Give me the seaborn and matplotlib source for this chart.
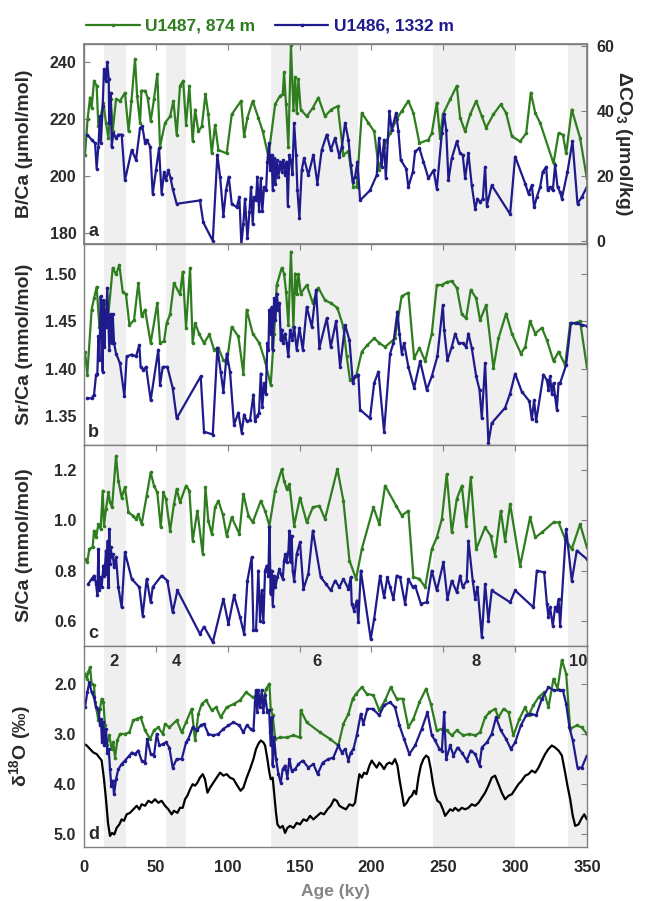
import numpy as np
import pandas as pd
import matplotlib
matplotlib.use("Agg")
import matplotlib.pyplot as plt
import seaborn as sns
from matplotlib.lines import Line2D
from matplotlib.ticker import FormatStrFormatter

# ---------------------------------------------------------------
# Data (age in ky)
# ---------------------------------------------------------------
# glacial stages (shaded) and their labels
mis_bands = [(14, 29), (57, 71), (130, 191), (243, 300), (337, 374)]
mis_labels = ["2", "4", "6", "8", "10"]
mis_label_age = [21, 64, 162, 273, 344]

# a) B/Ca
bca_487_age = [0.7, 2.5, 4.2, 5.3, 7.0, 8.8, 10.0, 11.6, 13.5, 15.3,
               17.0, 18.6, 20.0, 22.3, 25.0, 28.5, 31.0, 33.0, 35.5, 37.0,
               39.0, 40.0, 42.5, 44.3, 46.4, 48.7, 51.0, 52.9, 56.4, 59.9,
               62.2, 64.5, 66.8, 69.0, 71.0, 73.3, 75.6, 77.3, 79.6, 82.0,
               84.5, 86.5, 88.9, 91.2, 93.5, 99.3, 102.8, 109.3, 111.4, 113.7,
               117.4, 121.3, 124.4, 128.3, 133.0, 136.4, 138.3, 139.2, 140.6, 142.2,
               144.0, 145.7, 146.9, 148.0, 149.2, 150.8, 155.0, 159.2, 163.1, 167.7,
               172.0, 176.6, 180.5, 184.0, 187.5, 189.8, 193.3, 197.9, 201.9, 205.3,
               208.8, 213.0, 217.6, 221.0, 225.7, 229.2, 233.4, 239.7, 242.0, 245.5,
               247.8, 249.7, 254.8, 259.4, 261.7, 265.2, 268.7, 272.9, 276.8, 279.8,
               284.9, 290.0, 293.7, 297.7, 303.5, 307.7, 310.9, 314.0, 317.4, 326.7,
               330.2, 333.2, 335.5, 339.4, 345.2, 349.9]
bca_487 = [207.5, 220.0, 227.6, 224.0, 233.5, 231.7, 217.5, 221.0, 225.8, 218.7,
           213.4, 227.0, 216.0, 227.0, 226.4, 229.3, 215.7, 226.4, 241.2, 228.0,
           218.7, 230.0, 230.0, 227.6, 219.3, 227.0, 235.9, 210.4, 218.7, 221.0,
           226.4, 214.6, 231.7, 233.5, 218.0, 231.7, 212.2, 223.4, 215.7, 217.5,
           228.8, 221.7, 208.0, 218.0, 209.2, 208.0, 221.7, 226.4, 214.0, 220.5,
           226.4, 220.5, 215.7, 206.9, 225.2, 228.2, 228.8, 236.4, 225.2, 210.4,
           245.9, 223.4, 234.7, 222.2, 234.0, 223.4, 221.0, 224.0, 227.6, 221.0,
           223.4, 224.6, 207.5, 208.7, 196.2, 196.2, 222.2, 218.7, 215.7, 202.1,
           210.4, 215.1, 220.0, 222.8, 226.4, 222.2, 211.6, 212.8, 215.1, 225.8,
           213.4, 221.7, 227.0, 231.7, 220.5, 215.7, 221.7, 226.4, 221.0, 217.0,
           221.7, 225.2, 222.2, 214.0, 212.2, 215.1, 229.3, 222.2, 218.7, 204.5,
           215.1, 214.6, 208.0, 223.4, 213.4, 199.2]

bca_486_age = [2.3, 5.3, 7.7, 8.8, 10.0, 11.1, 11.8, 13.0, 13.9, 15.3,
               16.2, 17.2, 17.6, 18.6, 19.3, 20.4, 22.3, 23.9, 26.2, 28.5,
               33.2, 36.2, 39.0, 40.6, 42.5, 43.6, 46.0, 47.8, 50.1, 52.2,
               54.0, 55.7, 57.0, 58.7, 60.3, 61.7, 64.5, 80.7, 83.0, 89.6,
               92.8, 94.7, 97.0, 98.8, 100.7, 102.8, 106.3, 108.1, 109.5, 110.9,
               112.0, 113.7, 115.1, 116.2, 117.4, 118.3, 119.7, 120.6, 121.8, 123.0,
               124.1, 125.3, 126.7, 127.6, 128.8, 129.5, 130.6, 131.3, 132.3, 133.2,
               134.1, 135.3, 136.4, 137.6, 138.7, 139.9, 141.0, 141.8, 142.9, 144.1,
               145.0, 146.2, 147.6, 148.5, 149.9, 151.5, 153.1, 156.1, 159.6, 162.4,
               165.4, 168.9, 171.7, 174.7, 177.7, 179.4, 181.7, 184.0, 185.7, 187.1,
               188.6, 190.3, 192.1, 199.0, 203.7, 205.3, 207.2, 208.8, 210.0, 212.5,
               214.1, 217.2, 218.8, 220.4, 224.1, 225.7, 228.8, 230.4, 233.4, 236.2,
               239.7, 243.2, 245.5, 249.0, 250.6, 252.0, 253.6, 255.9, 259.4, 261.7,
               263.5, 265.2, 267.5, 269.8, 272.2, 273.8, 275.6, 277.5, 279.1, 280.3,
               283.7, 296.5, 300.0, 307.0, 309.3, 311.6, 313.2, 315.1, 317.4, 319.2,
               321.6, 322.7, 324.3, 326.2, 327.8, 329.5, 331.3, 332.5, 336.4, 339.9,
               343.4, 346.4, 349.9]
bca_486 = [214.6, 212.8, 211.6, 202.7, 210.4, 221.0, 211.6, 224.6, 237.6, 233.5,
           240.0, 234.0, 218.7, 229.3, 210.4, 215.1, 213.4, 214.6, 214.6, 198.6,
           209.2, 205.7, 216.9, 217.5, 211.6, 212.8, 210.4, 193.8, 202.1, 209.8,
           193.8, 201.5, 198.6, 202.1, 199.2, 195.6, 190.3, 191.5, 183.8, 177.3,
           207.5, 199.8, 186.1, 195.0, 199.8, 190.3, 189.1, 192.7, 176.1, 183.2,
           192.1, 178.2, 187.3, 196.2, 183.2, 192.7, 191.5, 199.8, 187.9, 199.2,
           187.9, 196.2, 195.0, 205.1, 211.6, 202.1, 207.5, 195.0, 206.3, 197.4,
           205.7, 199.8, 205.1, 201.5, 205.7, 200.4, 205.1, 189.7, 207.5, 205.1,
           200.9, 218.7, 207.5, 195.0, 185.5, 202.1, 206.3, 200.4, 207.5, 197.4,
           209.2, 214.6, 209.2, 213.4, 206.9, 210.4, 218.7, 212.8, 203.9, 197.9,
           199.8, 205.1, 191.5, 195.0, 200.4, 213.4, 203.3, 212.8, 199.2, 222.8,
           216.3, 222.2, 215.7, 205.7, 202.7, 196.2, 201.5, 208.7, 209.8, 205.1,
           199.2, 202.1, 195.6, 215.1, 221.7, 216.3, 198.6, 206.3, 212.2, 208.0,
           207.5, 199.2, 208.0, 196.8, 188.5, 192.1, 190.9, 192.1, 203.3, 189.7,
           196.8, 186.7, 206.9, 197.4, 193.8, 196.8, 189.1, 192.7, 196.2, 201.5,
           203.3, 195.0, 196.2, 195.0, 203.9, 196.2, 194.4, 192.1, 201.5, 212.2,
           190.3, 192.7, 196.2]

# b) Sr/Ca
srca_487_age = [0.7, 2.3, 5.3, 7.0, 8.8, 10.7, 12.3, 14.6, 17.0, 20.0,
                22.3, 24.6, 26.9, 29.2, 31.6, 34.8, 37.8, 40.1, 42.5, 46.4,
                51.0, 52.9, 55.7, 57.5, 59.9, 62.6, 66.8, 68.7, 71.0, 73.8,
                75.6, 77.3, 80.3, 83.5, 87.2, 90.5, 93.5, 97.0, 99.3, 102.8,
                107.4, 110.9, 113.2, 117.4, 122.0, 126.0, 129.9, 132.3, 134.1, 137.6,
                139.2, 140.6, 142.2, 144.0, 145.7, 146.9, 148.0, 149.2, 150.8, 155.0,
                159.2, 163.1, 167.7, 171.7, 176.3, 180.5, 182.8, 185.1, 189.3, 193.3,
                197.2, 201.9, 205.5, 209.5, 216.4, 221.0, 225.7, 229.7, 233.4, 237.4,
                242.0, 245.5, 249.0, 252.4, 255.9, 259.4, 262.9, 265.9, 269.1, 272.9,
                275.6, 279.8, 284.9, 288.4, 293.7, 297.7, 304.0, 307.0, 310.4, 314.0,
                318.6, 322.1, 326.7, 330.2, 334.8, 338.3, 341.8, 345.2, 349.9]
srca_487 = [1.418, 1.394, 1.462, 1.474, 1.486, 1.444, 1.455, 1.471, 1.458, 1.506,
            1.499, 1.509, 1.481, 1.478, 1.446, 1.451, 1.490, 1.455, 1.462, 1.427,
            1.469, 1.427, 1.429, 1.448, 1.457, 1.490, 1.478, 1.502, 1.443, 1.506,
            1.427, 1.448, 1.436, 1.427, 1.436, 1.420, 1.422, 1.409, 1.406, 1.444,
            1.434, 1.395, 1.462, 1.437, 1.427, 1.408, 1.383, 1.437, 1.488, 1.506,
            1.500, 1.481, 1.446, 1.523, 1.444, 1.500, 1.478, 1.499, 1.479, 1.488,
            1.469, 1.485, 1.472, 1.469, 1.464, 1.444, 1.413, 1.388, 1.392, 1.418,
            1.425, 1.432, 1.427, 1.423, 1.432, 1.476, 1.480, 1.411, 1.422, 1.408,
            1.437, 1.488, 1.488, 1.491, 1.492, 1.485, 1.457, 1.453, 1.483, 1.474,
            1.451, 1.467, 1.401, 1.432, 1.458, 1.437, 1.416, 1.423, 1.450, 1.437,
            1.443, 1.430, 1.408, 1.418, 1.404, 1.448, 1.448, 1.450, 1.402]

srca_486_age = [2.3, 5.3, 7.0, 8.4, 9.3, 10.0, 10.7, 11.6, 12.3, 13.0,
                13.5, 14.2, 14.8, 15.3, 16.2, 17.0, 17.6, 18.6, 19.3, 20.0,
                20.9, 22.3, 25.0, 28.1, 29.7, 33.2, 36.2, 38.5, 39.4, 41.3,
                43.2, 46.4, 51.7, 52.9, 54.8, 58.0, 61.7, 64.5, 81.2, 83.5,
                89.6, 92.8, 95.1, 97.0, 99.3, 101.6, 104.4, 107.4, 109.7, 111.4,
                113.2, 115.5, 117.9, 119.0, 120.2, 121.8, 123.0, 124.1, 125.3, 126.5,
                127.6, 128.3, 129.0, 129.9, 130.6, 131.3, 132.3, 133.2, 134.1, 135.3,
                136.0, 136.9, 137.6, 138.7, 139.9, 141.0, 142.2, 143.4, 145.0, 146.2,
                148.0, 149.9, 152.2, 155.0, 158.5, 161.5, 163.8, 168.9, 171.7, 175.4,
                178.2, 181.7, 184.7, 187.1, 188.6, 190.9, 192.1, 199.0, 201.9, 204.9,
                208.8, 213.0, 215.3, 218.1, 219.5, 221.1, 222.7, 225.7, 229.7, 233.9,
                238.5, 242.0, 245.9, 249.7, 250.6, 252.9, 255.9, 258.3, 260.6, 263.5,
                265.9, 267.5, 269.8, 272.9, 275.2, 276.8, 279.1, 281.4, 283.7, 293.0,
                296.5, 300.0, 304.6, 309.9, 311.6, 313.2, 314.6, 319.7, 322.1, 323.2,
                324.3, 325.5, 326.7, 327.8, 329.0, 330.2, 331.3, 335.5, 338.8, 342.9,
                346.4, 349.9]
srca_486 = [1.369, 1.369, 1.373, 1.394, 1.395, 1.434, 1.409, 1.476, 1.452, 1.397,
            1.472, 1.423, 1.462, 1.444, 1.485, 1.448, 1.420, 1.457, 1.427, 1.457,
            1.427, 1.416, 1.406, 1.371, 1.413, 1.415, 1.413, 1.425, 1.402, 1.399,
            1.402, 1.367, 1.420, 1.383, 1.402, 1.402, 1.380, 1.348, 1.392, 1.334,
            1.331, 1.422, 1.397, 1.376, 1.416, 1.397, 1.341, 1.354, 1.333, 1.352,
            1.345, 1.346, 1.373, 1.345, 1.350, 1.354, 1.395, 1.360, 1.385, 1.374,
            1.427, 1.420, 1.462, 1.437, 1.465, 1.420, 1.474, 1.451, 1.479, 1.462,
            1.469, 1.430, 1.441, 1.427, 1.437, 1.427, 1.413, 1.441, 1.430, 1.444,
            1.420, 1.443, 1.420, 1.465, 1.444, 1.483, 1.422, 1.453, 1.423, 1.450,
            1.402, 1.446, 1.430, 1.385, 1.392, 1.394, 1.357, 1.348, 1.385, 1.397,
            1.334, 1.416, 1.427, 1.460, 1.437, 1.416, 1.427, 1.402, 1.380, 1.408,
            1.378, 1.392, 1.413, 1.467, 1.441, 1.409, 1.423, 1.437, 1.427, 1.427,
            1.423, 1.437, 1.422, 1.392, 1.378, 1.348, 1.406, 1.322, 1.343, 1.359,
            1.374, 1.395, 1.376, 1.366, 1.347, 1.367, 1.345, 1.394, 1.388, 1.378,
            1.392, 1.374, 1.385, 1.371, 1.357, 1.385, 1.385, 1.404, 1.448, 1.448,
            1.446, 1.445]

# c) S/Ca
sca_487_age = [0.7, 2.3, 3.7, 6.0, 7.0, 8.4, 10.0, 11.6, 13.0, 13.9,
               15.3, 17.0, 18.1, 19.5, 22.3, 23.9, 26.2, 28.5, 30.9, 33.9,
               36.2, 37.8, 40.1, 43.6, 46.4, 48.7, 51.0, 53.4, 55.2, 57.0,
               59.9, 62.6, 64.5, 66.8, 71.0, 73.3, 75.6, 78.9, 82.6, 84.5,
               86.5, 88.9, 91.2, 93.5, 96.5, 99.3, 102.8, 108.1, 110.9, 114.4,
               117.4, 123.0, 126.0, 129.0, 133.0, 137.6, 139.2, 141.0, 142.9, 146.2,
               150.3, 155.0, 159.2, 163.8, 167.7, 176.3, 180.5, 184.7, 189.3, 193.3,
               201.4, 205.5, 209.5, 217.2, 221.1, 225.7, 229.2, 233.4, 237.4, 242.0,
               245.5, 249.0, 252.4, 255.9, 259.4, 262.9, 265.9, 269.1, 272.9, 279.1,
               283.0, 286.0, 290.0, 293.0, 296.5, 303.5, 310.4, 314.0, 318.6, 326.7,
               330.2, 334.8, 339.4, 345.2, 349.9]
sca_487 = [0.846, 0.833, 0.886, 0.893, 0.959, 0.932, 0.984, 0.966, 1.118, 0.979,
           1.045, 1.111, 1.072, 1.052, 1.257, 1.158, 1.091, 1.131, 1.032, 1.019,
           1.005, 1.025, 0.985, 1.098, 1.191, 1.138, 1.111, 0.972, 1.111, 1.085,
           0.959, 1.065, 1.125, 1.072, 1.138, 1.118, 0.919, 1.038, 0.866, 1.131,
           0.999, 0.946, 1.052, 1.078, 1.025, 0.939, 1.012, 0.946, 1.105, 1.019,
           0.992, 1.078, 1.038, 0.979, 1.118, 1.204, 1.158, 1.125, 1.144, 0.979,
           1.091, 0.992, 1.052, 1.058, 1.005, 1.204, 1.078, 0.840, 0.767, 0.886,
           1.052, 0.985, 1.138, 1.058, 1.019, 1.038, 0.774, 0.767, 0.734, 0.886,
           0.932, 1.005, 1.184, 0.952, 1.085, 1.138, 0.979, 1.171, 0.886, 0.972,
           0.939, 0.860, 1.038, 0.919, 1.065, 0.820, 1.012, 0.932, 0.952, 0.992,
           0.992, 0.926, 0.886, 0.985, 0.893]

sca_486_age = [3.0, 5.3, 7.0, 8.4, 9.3, 10.0, 10.7, 11.6, 12.3, 13.5,
               14.2, 15.3, 15.8, 16.5, 17.0, 17.6, 18.1, 18.6, 19.3, 20.0,
               20.9, 22.3, 23.9, 26.2, 28.5, 33.2, 38.5, 40.8, 43.6, 46.4,
               47.8, 54.0, 58.0, 61.7, 65.0, 80.7, 83.5, 89.6, 97.0, 100.5,
               104.4, 108.6, 111.4, 113.7, 116.7, 117.9, 119.7, 121.3, 122.5, 123.7,
               124.8, 126.0, 127.1, 128.3, 129.0, 129.9, 130.6, 131.3, 132.3, 133.2,
               134.5, 136.0, 136.9, 138.3, 139.2, 140.1, 141.0, 142.2, 142.9, 143.8,
               144.5, 145.2, 146.2, 148.0, 150.3, 152.7, 156.1, 159.2, 164.7, 168.4,
               171.7, 174.7, 177.7, 180.5, 184.0, 185.6, 186.3, 187.9, 189.8, 190.9,
               192.6, 199.5, 201.9, 206.0, 208.8, 211.1, 213.0, 215.3, 217.6, 219.9,
               223.4, 225.7, 228.8, 230.4, 234.4, 238.5, 242.0, 245.5, 250.1, 252.9,
               255.9, 259.4, 261.7, 263.5, 266.3, 267.5, 270.5, 272.2, 273.8, 276.8,
               279.1, 281.4, 283.7, 296.5, 300.0, 312.7, 315.1, 320.2, 322.1, 323.2,
               324.3, 326.2, 327.8, 329.0, 330.2, 331.3, 335.5, 339.4, 342.9, 349.9]
sca_486 = [0.747, 0.767, 0.780, 0.747, 0.701, 0.886, 0.721, 0.774, 0.734, 0.820,
           0.780, 0.880, 0.787, 0.919, 0.734, 0.966, 0.826, 0.893, 0.853, 0.866,
           0.813, 0.853, 0.734, 0.654, 0.873, 0.767, 0.734, 0.621, 0.767, 0.674,
           0.734, 0.780, 0.760, 0.634, 0.721, 0.548, 0.577, 0.515, 0.687, 0.587,
           0.701, 0.614, 0.548, 0.760, 0.853, 0.562, 0.562, 0.800, 0.601, 0.721,
           0.595, 0.800, 0.820, 0.780, 0.972, 0.707, 0.800, 0.661, 0.780, 0.734,
           0.774, 0.807, 0.787, 0.767, 0.840, 0.866, 0.833, 0.873, 0.959, 0.833,
           0.939, 0.800, 0.760, 0.866, 0.913, 0.727, 0.787, 0.959, 0.774, 0.747,
           0.721, 0.760, 0.734, 0.767, 0.727, 0.774, 0.668, 0.641, 0.681, 0.595,
           0.800, 0.528, 0.608, 0.780, 0.694, 0.774, 0.734, 0.687, 0.780, 0.774,
           0.668, 0.767, 0.734, 0.740, 0.668, 0.674, 0.800, 0.721, 0.833, 0.687,
           0.760, 0.714, 0.780, 0.734, 0.760, 0.919, 0.760, 0.687, 0.734, 0.535,
           0.747, 0.601, 0.721, 0.674, 0.721, 0.654, 0.800, 0.793, 0.668, 0.615,
           0.654, 0.581, 0.654, 0.641, 0.687, 0.581, 0.966, 0.760, 0.880, 0.846]

# d) d18O
d18o_487_age = [0.7, 1.9, 3.0, 4.2, 5.3, 7.0, 7.7, 8.8, 10.0, 11.1,
                12.3, 13.5, 14.6, 15.8, 17.6, 19.3, 20.4, 21.6, 23.2, 25.0,
                28.5, 31.6, 34.3, 36.7, 39.4, 42.5, 46.0, 48.7, 51.7, 54.8,
                56.4, 59.4, 64.5, 68.0, 71.0, 74.9, 77.3, 79.6, 82.0, 85.0,
                88.9, 91.9, 95.1, 99.3, 104.4, 108.6, 112.8, 117.4, 121.3, 124.8,
                126.7, 129.0, 129.9, 131.3, 133.0, 136.4, 141.0, 145.7, 150.3, 150.8,
                155.0, 164.3, 171.2, 177.0, 180.5, 184.0, 187.0, 189.3, 193.3, 196.7,
                201.4, 205.5, 209.5, 213.4, 217.6, 221.7, 225.7, 229.2, 233.4, 238.0,
                241.3, 245.5, 249.0, 252.4, 255.9, 259.4, 264.0, 268.2, 272.2, 275.6,
                279.1, 282.1, 286.0, 288.4, 291.9, 295.4, 298.8, 303.0, 306.9, 309.3,
                312.7, 316.3, 320.2, 323.2, 326.7, 329.5, 332.5, 335.5, 338.3, 342.9,
                346.4, 349.9]
d18o_487 = [1.80, 1.90, 1.77, 1.67, 2.00, 2.03, 2.37, 2.53, 2.73, 2.50,
            2.30, 2.37, 2.83, 3.23, 3.03, 3.30, 3.17, 3.47, 3.13, 3.00,
            3.00, 2.97, 2.73, 2.70, 2.67, 2.93, 3.10, 2.93, 2.87, 3.00,
            2.80, 2.87, 2.73, 2.97, 2.77, 2.50, 3.13, 2.60, 2.40, 2.33,
            2.53, 2.47, 2.67, 2.47, 2.40, 2.33, 2.17, 2.27, 2.23, 2.33,
            2.10, 2.00, 2.50, 2.63, 3.10, 3.07, 3.07, 3.03, 3.07, 2.53,
            2.77, 2.97, 3.10, 3.23, 2.80, 2.60, 2.30, 2.20, 2.07, 2.20,
            2.23, 2.53, 2.33, 2.07, 2.30, 2.30, 2.87, 2.70, 2.37, 2.10,
            2.40, 2.93, 2.90, 2.93, 3.03, 2.93, 3.03, 3.00, 3.03, 2.97,
            2.67, 2.57, 2.50, 2.67, 2.50, 2.57, 3.03, 2.70, 2.47, 2.63,
            2.43, 2.27, 2.17, 2.47, 1.90, 2.10, 1.53, 1.80, 2.90, 2.83,
            2.87, 3.00]

d18o_486_age = [0.7, 2.3, 3.7, 5.3, 7.0, 8.4, 10.0, 11.1, 11.8, 12.5,
                13.5, 14.2, 15.3, 16.2, 17.2, 18.1, 19.0, 20.0, 20.9, 22.3,
                23.9, 26.2, 28.5, 31.6, 33.2, 35.5, 37.8, 40.1, 42.5, 44.0,
                46.4, 48.7, 50.6, 52.4, 54.8, 57.0, 59.4, 61.7, 64.5, 68.0,
                71.0, 72.6, 75.6, 78.4, 81.2, 83.5, 86.5, 90.0, 93.5, 97.0,
                100.5, 104.0, 108.1, 110.9, 113.2, 116.0, 117.9, 119.0, 119.7, 120.6,
                121.3, 122.5, 123.7, 124.8, 126.0, 127.6, 128.8, 129.5, 129.9, 130.6,
                131.3, 132.3, 133.6, 135.3, 136.9, 138.3, 139.9, 141.5, 142.9, 144.5,
                146.9, 149.2, 152.2, 156.1, 159.6, 162.6, 166.1, 170.1, 173.5, 177.0,
                179.4, 181.7, 184.0, 185.6, 187.5, 189.8, 192.6, 194.4, 197.2, 200.9,
                205.5, 208.8, 213.0, 216.4, 219.5, 222.7, 226.4, 230.4, 235.0, 239.0,
                242.0, 244.3, 247.3, 249.0, 250.6, 252.0, 254.8, 257.1, 259.9, 262.9,
                266.3, 269.1, 272.2, 275.2, 276.8, 280.3, 283.7, 286.7, 290.0, 293.7,
                297.0, 300.0, 304.0, 307.7, 310.9, 314.6, 318.6, 323.2, 326.7, 330.9,
                333.2, 335.5, 337.8, 340.1, 343.4, 346.4, 349.9]
d18o_486 = [2.47, 2.17, 1.97, 2.17, 2.27, 2.47, 2.50, 2.83, 2.70, 3.17,
            2.77, 3.23, 2.90, 3.37, 3.30, 3.70, 4.03, 3.93, 4.20, 3.90,
            3.70, 3.60, 3.53, 3.43, 3.37, 3.40, 3.33, 3.53, 3.57, 3.10,
            3.40, 3.43, 3.00, 3.23, 3.20, 3.17, 3.27, 3.67, 3.50, 3.50,
            3.17, 3.10, 2.87, 2.93, 2.83, 2.80, 3.00, 3.03, 3.00, 2.90,
            2.83, 2.77, 2.83, 2.97, 2.83, 2.90, 2.93, 2.37, 2.13, 2.57,
            2.13, 2.47, 2.13, 2.57, 2.23, 2.57, 2.53, 2.97, 3.23, 2.67,
            3.63, 3.07, 3.50, 3.80, 3.97, 3.70, 3.63, 3.87, 3.50, 3.73,
            3.70, 3.60, 3.53, 3.67, 3.60, 3.80, 3.57, 3.50, 3.47, 3.23,
            3.37, 3.30, 3.53, 3.37, 3.30, 3.03, 2.60, 2.80, 2.50, 2.50,
            2.63, 2.43, 2.37, 2.47, 2.83, 3.10, 3.40, 3.23, 2.90, 2.57,
            3.03, 3.13, 3.30, 3.33, 2.57, 3.50, 3.23, 3.43, 3.27, 3.37,
            3.53, 3.33, 3.40, 3.63, 3.27, 3.17, 3.00, 2.67, 2.93, 3.10,
            3.30, 3.17, 2.83, 2.63, 2.60, 2.63, 2.30, 2.07, 2.13, 2.13,
            2.13, 2.40, 2.87, 3.13, 3.67, 3.67, 3.43]

# benthic stack (black line)
stack_age = [0.0, 1.9, 4.2, 6.5, 8.8, 10.7, 12.3, 13.9, 15.3, 16.7,
             18.1, 19.5, 21.1, 22.7, 24.6, 26.2, 27.8, 29.7, 32.0, 34.3,
             36.7, 38.5, 40.1, 42.5, 44.8, 47.1, 49.4, 51.7, 54.0, 56.4,
             58.7, 61.0, 62.6, 65.0, 66.8, 68.7, 70.3, 71.9, 73.8, 75.6,
             77.3, 78.9, 80.7, 82.6, 84.2, 85.9, 87.7, 90.0, 92.3, 94.7,
             97.0, 99.3, 101.6, 104.0, 106.7, 109.0, 110.9, 113.2, 115.5, 117.9,
             119.7, 121.3, 123.0, 124.8, 126.0, 127.6, 129.0, 129.9, 131.3, 132.3,
             133.6, 134.6, 136.4, 138.3, 139.9, 141.5, 143.4, 145.7, 148.0, 150.3,
             152.7, 155.0, 157.3, 159.6, 162.4, 164.7, 167.0, 169.4, 171.7, 174.0,
             175.9, 177.7, 180.0, 182.3, 184.7, 187.0, 188.6, 190.3, 191.6, 193.3,
             194.9, 196.7, 198.6, 200.2, 201.9, 203.7, 205.5, 207.2, 208.8, 210.7,
             212.5, 214.4, 216.4, 218.1, 219.5, 221.1, 222.7, 224.6, 226.4, 228.1,
             229.7, 231.1, 232.7, 234.4, 236.2, 238.1, 239.7, 241.3, 242.7, 244.3,
             245.9, 247.8, 249.7, 251.3, 252.9, 254.8, 256.6, 258.2, 260.6, 262.9,
             265.2, 267.5, 269.8, 272.2, 274.5, 276.8, 279.1, 281.4, 283.7, 286.0,
             288.4, 290.7, 293.0, 295.4, 297.7, 300.0, 302.3, 304.6, 307.0, 309.3,
             311.6, 314.0, 316.3, 318.6, 320.9, 323.2, 325.5, 327.8, 330.2, 332.5,
             334.8, 336.4, 338.3, 340.1, 341.8, 344.1, 346.4, 348.1, 349.9]
stack_d18o = [3.20, 3.23, 3.30, 3.37, 3.40, 3.47, 3.53, 3.90, 4.30, 4.77,
              5.03, 4.97, 5.00, 4.87, 4.80, 4.70, 4.73, 4.60, 4.57, 4.50,
              4.43, 4.50, 4.40, 4.43, 4.33, 4.37, 4.30, 4.37, 4.33, 4.43,
              4.50, 4.60, 4.53, 4.57, 4.47, 4.47, 4.30, 4.23, 4.10, 4.00,
              4.03, 3.97, 3.87, 3.80, 3.90, 4.17, 4.07, 3.97, 3.87, 3.77,
              3.83, 3.80, 3.87, 3.90, 4.03, 4.13, 4.07, 3.87, 3.70, 3.50,
              3.30, 3.20, 3.13, 3.17, 3.23, 3.50, 3.77, 3.90, 3.87, 4.17,
              4.57, 4.80, 4.87, 4.83, 4.97, 4.87, 4.83, 4.87, 4.77, 4.80,
              4.70, 4.73, 4.63, 4.70, 4.63, 4.57, 4.60, 4.50, 4.43, 4.30,
              4.33, 4.43, 4.47, 4.50, 4.40, 4.43, 4.37, 4.03, 3.80, 3.87,
              3.77, 3.80, 3.63, 3.53, 3.60, 3.67, 3.57, 3.63, 3.70, 3.60,
              3.57, 3.60, 3.50, 3.63, 3.90, 4.17, 4.43, 4.37, 4.27, 4.23,
              4.13, 4.20, 3.87, 3.63, 3.50, 3.43, 3.47, 3.70, 3.97, 4.20,
              4.33, 4.37, 4.50, 4.63, 4.57, 4.50, 4.53, 4.47, 4.53, 4.47,
              4.50, 4.47, 4.40, 4.43, 4.37, 4.27, 4.17, 4.03, 3.87, 3.83,
              4.00, 4.17, 4.30, 4.23, 4.20, 4.10, 4.00, 3.93, 3.83, 3.80,
              3.73, 3.77, 3.67, 3.53, 3.40, 3.30, 3.23, 3.27, 3.33, 3.43,
              3.77, 4.03, 4.30, 4.63, 4.83, 4.80, 4.67, 4.60, 4.70]

x_ticks = [0, 50, 100, 150, 200, 250, 300, 350]

# ---------------------------------------------------------------
# Style
# ---------------------------------------------------------------
sns.set_theme(style="white")
plt.rcParams["font.family"] = ["Liberation Sans", "DejaVu Sans"]
plt.rcParams["font.weight"] = "bold"
plt.rcParams["axes.labelweight"] = "bold"
plt.rcParams["mathtext.fontset"] = "custom"
plt.rcParams["mathtext.rm"] = "Liberation Sans:bold"
plt.rcParams["mathtext.default"] = "rm"

GREEN = "#2e7d1f"
NAVY = "#1f1b8c"
SHADE = "#efefef"
FRAME = "#808080"
TXT = "#2a2a2a"
LABEL_SIZE = 14

fig = plt.figure(figsize=(6.49, 9.01), dpi=100)
left, width = 84 / 649, 503 / 649
tops = [44, 244, 445, 646]
bottoms = [244, 445, 646, 847]
axes = []
for t, b in zip(tops, bottoms):
    axes.append(fig.add_axes([left, 1 - b / 901, width, (b - t) / 901]))
ax_a, ax_b, ax_c, ax_d = axes

line_kw = dict(marker="o", markersize=2.6, markeredgewidth=0, linewidth=1.6,
               estimator=None, sort=False, legend=False)

for ax in axes:
    for lo, hi in mis_bands:
        ax.axvspan(lo, hi, color=SHADE, lw=0, zorder=0)
    ax.set_xlim(0, 350)
    ax.set_xticks(x_ticks)
    for s in ax.spines.values():
        s.set_color(FRAME)
        s.set_linewidth(1.0)
    ax.tick_params(direction="in", top=True, right=True, length=4, width=0.8,
                   color=FRAME, labelcolor=TXT)
    ax.tick_params(axis="y", labelsize=11.5, pad=5.5)
    ax.tick_params(axis="x", labelsize=12, pad=9)
    ax.set_xlabel("")

# a
sns.lineplot(x=bca_487_age, y=bca_487, color=GREEN, ax=ax_a, **line_kw)
sns.lineplot(x=bca_486_age, y=bca_486, color=NAVY, ax=ax_a, **line_kw)
ax_a.set_ylim(176.2, 246.4)
ax_a.set_yticks([180, 200, 220, 240])
ax_a.tick_params(right=False)
ax_a.set_ylabel("B/Ca (µmol/mol)")
ax_a2 = ax_a.twinx()
ax_a2.set_ylim(-0.9, 60.5)
ax_a2.set_yticks([0, 20, 40, 60])
ax_a2.tick_params(direction="in", length=4, width=0.8, color=FRAME,
                  labelcolor=TXT, labelsize=11.5, pad=7)
for s in ax_a2.spines.values():
    s.set_color(FRAME)
ax_a2.set_ylabel("ΔCO$_3$ (µmol/kg)", rotation=270, labelpad=14,
                 fontsize=LABEL_SIZE, fontweight="bold", color=TXT)
ax_a2.grid(False)

# b
sns.lineplot(x=srca_487_age, y=srca_487, color=GREEN, ax=ax_b, **line_kw)
sns.lineplot(x=srca_486_age, y=srca_486, color=NAVY, ax=ax_b, **line_kw)
ax_b.set_ylim(1.320, 1.531)
ax_b.set_yticks([1.35, 1.40, 1.45, 1.50])
ax_b.yaxis.set_major_formatter(FormatStrFormatter("%.2f"))
ax_b.set_ylabel("Sr/Ca (mmol/mol)")

# c
sns.lineplot(x=sca_487_age, y=sca_487, color=GREEN, ax=ax_c, **line_kw)
sns.lineplot(x=sca_486_age, y=sca_486, color=NAVY, ax=ax_c, **line_kw)
ax_c.set_ylim(0.5, 1.3)
ax_c.set_yticks([0.6, 0.8, 1.0, 1.2])
ax_c.yaxis.set_major_formatter(FormatStrFormatter("%.1f"))
ax_c.set_ylabel("S/Ca (mmol/mol)")

# d
sns.lineplot(x=stack_age, y=stack_d18o, color="black", linewidth=1.6,
             estimator=None, sort=False, legend=False, ax=ax_d)
sns.lineplot(x=d18o_487_age, y=d18o_487, color=GREEN, ax=ax_d, **line_kw)
sns.lineplot(x=d18o_486_age, y=d18o_486, color=NAVY, ax=ax_d, **line_kw)
ax_d.set_ylim(5.25, 1.25)
ax_d.set_yticks([2, 3, 4, 5])
ax_d.yaxis.set_major_formatter(FormatStrFormatter("%.1f"))
ax_d.set_ylabel("δ$^{18}$O (‰)")
for lab, age in zip(mis_labels, mis_label_age):
    ax_d.text(age, 1.56, lab, ha="center", va="center", fontsize=12,
              fontweight="bold", color=TXT)
ax_d.set_xlabel("Age (ky)", color="#858585", fontsize=12.5, fontweight="bold",
                labelpad=7)

for ax in (ax_a, ax_b, ax_c):
    ax.tick_params(labelbottom=False)

for ax, letter in zip(axes, "abcd"):
    ax.text(0.008, 0.02, letter, transform=ax.transAxes, ha="left", va="bottom",
            fontsize=13, fontweight="bold", color=TXT)
    ax.yaxis.label.set_color(TXT)
    ax.yaxis.label.set_fontsize(LABEL_SIZE)
    ax.yaxis.label.set_fontweight("bold")
    ax.yaxis.set_label_coords(-0.101, 0.5)

handles = [Line2D([], [], color=GREEN, marker="o", markersize=2.6, markeredgewidth=0, lw=1.6),
           Line2D([], [], color=NAVY, marker="o", markersize=2.6, markeredgewidth=0, lw=1.6)]
leg = fig.legend(handles, ["U1487, 874 m", "U1486, 1332 m"], loc="center",
                 bbox_to_anchor=(270 / 649, 1 - 26 / 901), ncol=2, frameon=False,
                 handlelength=3.1, columnspacing=1.1, handletextpad=0.3,
                 prop={"weight": "bold", "size": 12.5})
for txt, c in zip(leg.get_texts(), [GREEN, NAVY]):
    txt.set_color(c)

fig.savefig("out.png", dpi=100)
